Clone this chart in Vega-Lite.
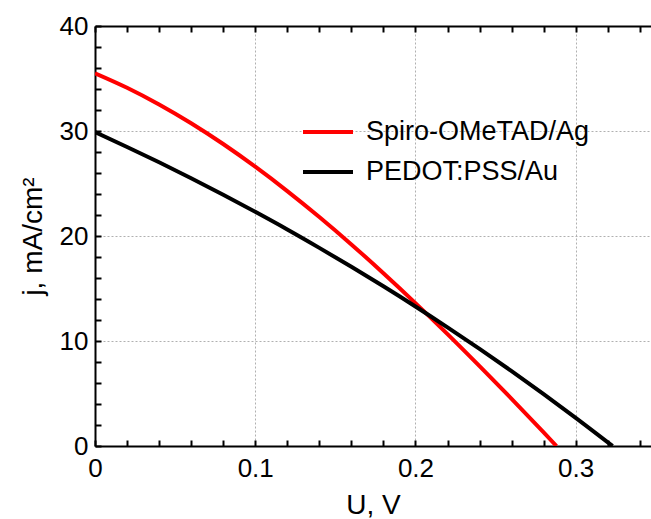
{
  "$schema": "https://vega.github.io/schema/vega-lite/v6.json",
  "width": 556,
  "height": 420,
  "autosize": {"type": "none"},
  "padding": {"left": 95, "top": 26, "right": 0, "bottom": 73},
  "config": {
    "font": "Liberation Sans",
    "view": {"stroke": null},
    "axis": {
      "labelColor": "#000000",
      "titleColor": "#000000",
      "labelFontSize": 26,
      "titleFontSize": 28,
      "titleFontWeight": "normal",
      "gridColor": "#b0b0b0",
      "gridDash": [2, 2],
      "gridWidth": 1,
      "labelOverlap": false,
      "labelFlush": false
    }
  },
  "data": {
    "values": [
      {"V": 0.0, "j": 35.5, "s": "Spiro-OMeTAD/Ag"},
      {"V": 0.02, "j": 34.12, "s": "Spiro-OMeTAD/Ag"},
      {"V": 0.04, "j": 32.53, "s": "Spiro-OMeTAD/Ag"},
      {"V": 0.06, "j": 30.74, "s": "Spiro-OMeTAD/Ag"},
      {"V": 0.08, "j": 28.76, "s": "Spiro-OMeTAD/Ag"},
      {"V": 0.1, "j": 26.6, "s": "Spiro-OMeTAD/Ag"},
      {"V": 0.12, "j": 24.28, "s": "Spiro-OMeTAD/Ag"},
      {"V": 0.14, "j": 21.81, "s": "Spiro-OMeTAD/Ag"},
      {"V": 0.16, "j": 19.2, "s": "Spiro-OMeTAD/Ag"},
      {"V": 0.18, "j": 16.46, "s": "Spiro-OMeTAD/Ag"},
      {"V": 0.2, "j": 13.61, "s": "Spiro-OMeTAD/Ag"},
      {"V": 0.22, "j": 10.65, "s": "Spiro-OMeTAD/Ag"},
      {"V": 0.24, "j": 7.6, "s": "Spiro-OMeTAD/Ag"},
      {"V": 0.26, "j": 4.49, "s": "Spiro-OMeTAD/Ag"},
      {"V": 0.28, "j": 1.3, "s": "Spiro-OMeTAD/Ag"},
      {"V": 0.288, "j": 0.0, "s": "Spiro-OMeTAD/Ag"},
      {"V": 0.0, "j": 29.9, "s": "PEDOT:PSS/Au"},
      {"V": 0.02, "j": 28.48, "s": "PEDOT:PSS/Au"},
      {"V": 0.04, "j": 27.02, "s": "PEDOT:PSS/Au"},
      {"V": 0.06, "j": 25.5, "s": "PEDOT:PSS/Au"},
      {"V": 0.08, "j": 23.93, "s": "PEDOT:PSS/Au"},
      {"V": 0.1, "j": 22.3, "s": "PEDOT:PSS/Au"},
      {"V": 0.12, "j": 20.62, "s": "PEDOT:PSS/Au"},
      {"V": 0.14, "j": 18.87, "s": "PEDOT:PSS/Au"},
      {"V": 0.16, "j": 17.07, "s": "PEDOT:PSS/Au"},
      {"V": 0.18, "j": 15.21, "s": "PEDOT:PSS/Au"},
      {"V": 0.2, "j": 13.29, "s": "PEDOT:PSS/Au"},
      {"V": 0.22, "j": 11.3, "s": "PEDOT:PSS/Au"},
      {"V": 0.24, "j": 9.25, "s": "PEDOT:PSS/Au"},
      {"V": 0.26, "j": 7.13, "s": "PEDOT:PSS/Au"},
      {"V": 0.28, "j": 4.94, "s": "PEDOT:PSS/Au"},
      {"V": 0.3, "j": 2.68, "s": "PEDOT:PSS/Au"},
      {"V": 0.323, "j": 0.0, "s": "PEDOT:PSS/Au"}
    ]
  },
  "resolve": {"axis": {"x": "independent", "y": "independent"}},
  "layer": [
    {
      "mark": {"type": "line", "strokeWidth": 4, "interpolate": "monotone", "clip": true},
      "encoding": {
        "x": {
          "field": "V",
          "type": "quantitative",
          "scale": {"domain": [0, 0.347], "nice": false, "zero": false},
          "axis": {
            "orient": "bottom",
            "title": "U, V",
            "titlePadding": 10,
            "values": [0, 0.02, 0.04, 0.06, 0.08, 0.1, 0.12, 0.14, 0.16, 0.18, 0.2, 0.22, 0.24, 0.26, 0.28, 0.3, 0.32, 0.34],
            "labelExpr": "abs(datum.value*10 - round(datum.value*10)) < 1e-6 ? format(datum.value, '~g') : ''",
            "gridOpacity": {"condition": {"test": "abs(datum.value*10 - round(datum.value*10)) < 1e-6 && datum.value > 0", "value": 1}, "value": 0},
            "tickSize": -6,
            "tickColor": "black",
            "tickWidth": 2,
            "domainColor": "#000000",
            "domainWidth": 2,
            "grid": true,
            "labelPadding": 15
          }
        },
        "y": {
          "field": "j",
          "type": "quantitative",
          "scale": {"domain": [0, 40], "nice": false},
          "axis": {
            "orient": "left",
            "title": "j, mA/cm²",
            "titlePadding": 12,
            "values": [0, 2, 4, 6, 8, 10, 12, 14, 16, 18, 20, 22, 24, 26, 28, 30, 32, 34, 36, 38, 40],
            "labelExpr": "datum.value % 10 == 0 ? datum.label : ''",
            "gridOpacity": {"condition": {"test": "datum.value % 10 == 0 && datum.value > 0 && datum.value < 40", "value": 1}, "value": 0},
            "tickSize": -6,
            "tickColor": "black",
            "tickWidth": 2,
            "domainColor": "#000000",
            "domainWidth": 2,
            "grid": true,
            "labelPadding": 13
          }
        },
        "color": {
          "field": "s",
          "type": "nominal",
          "scale": {"domain": ["Spiro-OMeTAD/Ag", "PEDOT:PSS/Au"], "range": ["#ff0000", "#000000"]},
          "legend": {
            "title": null,
            "orient": "none",
            "legendX": 206,
            "legendY": 79,
            "padding": 0,
            "symbolType": "stroke",
            "symbolSize": 2500,
            "symbolStrokeWidth": 4,
            "labelFontSize": 27,
            "labelColor": "#000000",
            "labelOffset": 11,
            "labelLimit": 0,
            "rowPadding": -8
          }
        }
      }
    },
    {
      "mark": {"type": "point", "opacity": 0},
      "encoding": {
        "x": {
          "field": "V",
          "type": "quantitative",
          "axis": {
            "orient": "top",
            "title": " ",
            "labelOpacity": 0,
            "labelFontSize": 2,
            "grid": false,
            "values": [0, 0.02, 0.04, 0.06, 0.08, 0.1, 0.12, 0.14, 0.16, 0.18, 0.2, 0.22, 0.24, 0.26, 0.28, 0.3, 0.32, 0.34],
            "tickSize": -6,
            "tickColor": "black",
            "tickWidth": 2,
            "domainColor": "#000000",
            "domainWidth": 2
          }
        },
        "y": {"field": "j", "type": "quantitative", "axis": null}
      }
    }
  ]
}
